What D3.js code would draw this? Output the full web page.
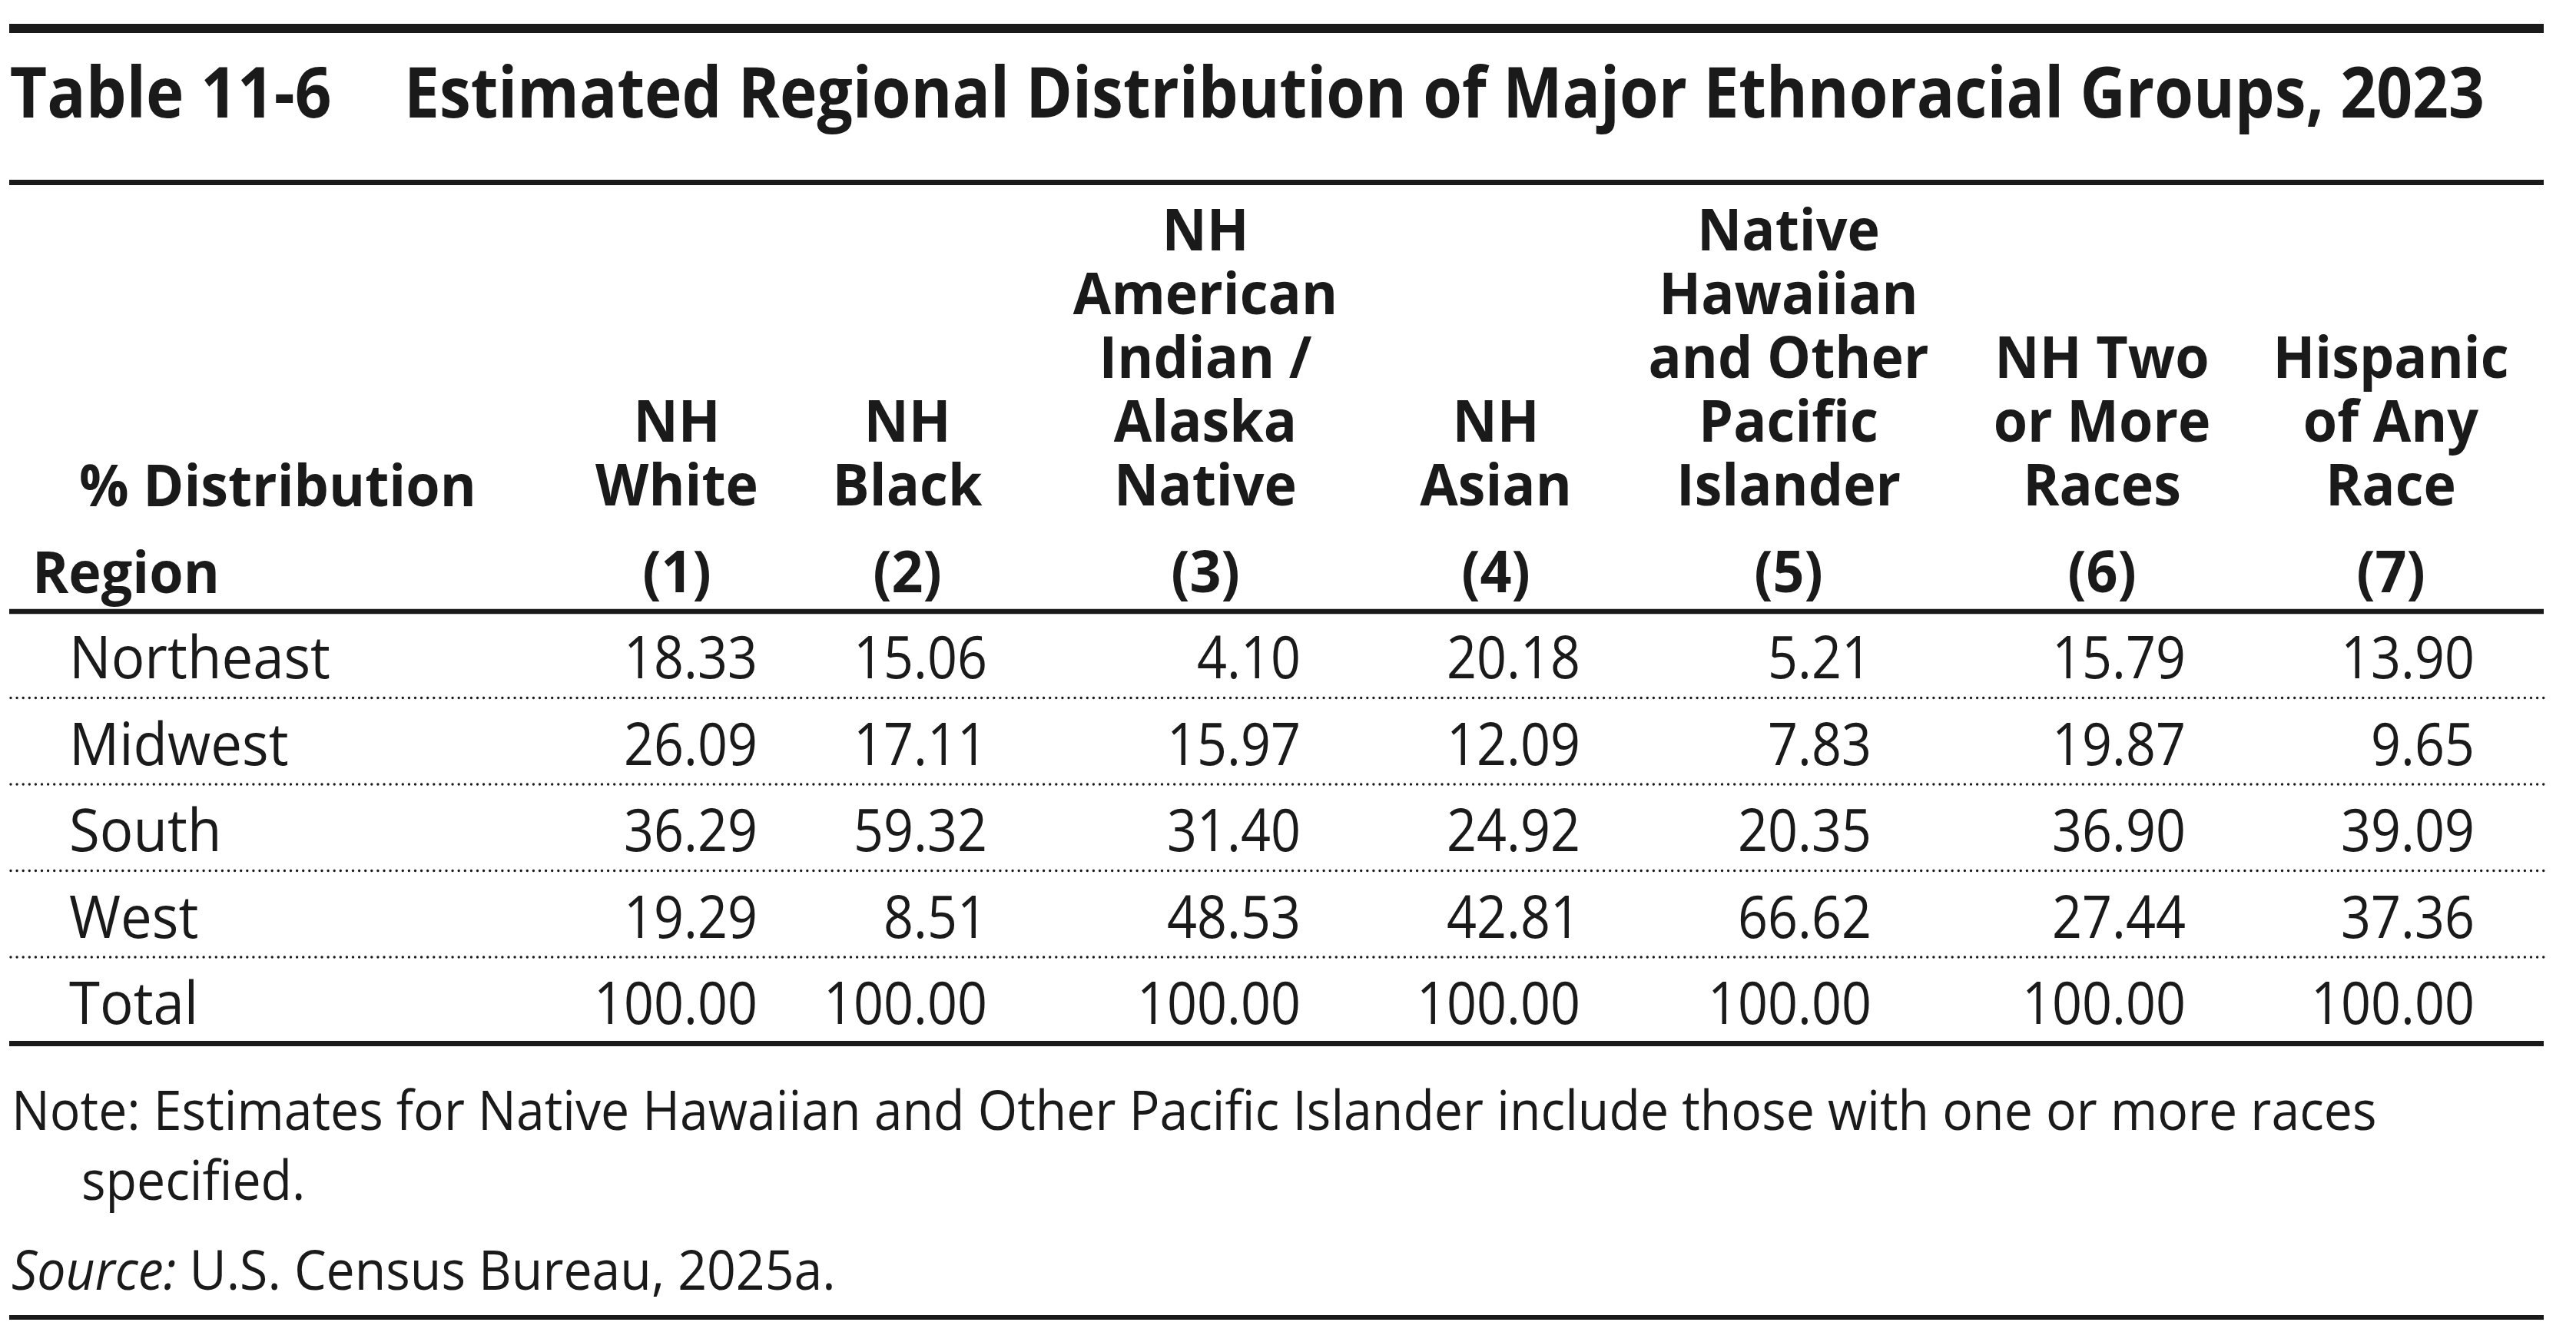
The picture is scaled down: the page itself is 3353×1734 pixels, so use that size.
<!DOCTYPE html>
<html>
<head>
<meta charset="utf-8">
<script src="https://cdn.jsdelivr.net/npm/d3@7"></script>
<style>
  body { margin: 0; background: #fff; }
  svg { display: block; }
  text { font-family: "Open Sans", "Noto Sans", sans-serif; fill: #1a1a1a; }
</style>
</head>
<body>
<div id="chart"></div>
<script>
// table data
var regions = ["Northeast", "Midwest", "South", "West", "Total"];
var headers = [
  ["NH", "White"],
  ["NH", "Black"],
  ["NH", "American", "Indian /", "Alaska", "Native"],
  ["NH", "Asian"],
  ["Native", "Hawaiian", "and Other", "Pacific", "Islander"],
  ["NH Two", "or More", "Races"],
  ["Hispanic", "of Any", "Race"]
];
var colNumbers = ["(1)", "(2)", "(3)", "(4)", "(5)", "(6)", "(7)"];

var nhWhite  = [18.33, 26.09, 36.29, 19.29, 100.00];
var nhBlack  = [15.06, 17.11, 59.32,  8.51, 100.00];
var nhAIAN   = [ 4.10, 15.97, 31.40, 48.53, 100.00];
var nhAsian  = [20.18, 12.09, 24.92, 42.81, 100.00];
var nhNHPI   = [ 5.21,  7.83, 20.35, 66.62, 100.00];
var nhTwo    = [15.79, 19.87, 36.90, 27.44, 100.00];
var hispanic = [13.90,  9.65, 39.09, 37.36, 100.00];
var series = [nhWhite, nhBlack, nhAIAN, nhAsian, nhNHPI, nhTwo, hispanic];

var title1 = "Table 11-6";
var title2 = "Estimated Regional Distribution of Major Ethnoracial Groups, 2023";
var note1 = "Note: Estimates for Native Hawaiian and Other Pacific Islander include those with one or more races";
var note2 = "specified.";

// layout
var width = 3353, height = 1734;
var left = 12, right = 3311;
var colCenter = [881, 1181, 1569, 1947, 2328, 2736, 3112];
var colRight  = [986, 1285, 1693, 2057, 2436, 2845, 3221];

var svg = d3.select("#chart").append("svg")
  .attr("width", width)
  .attr("height", height)
  .attr("viewBox", "0 0 " + width + " " + height);

var fmt = d3.format(".2f");

// measure natural width to squeeze the fallback font to the original widths
function naturalWidth(str, size, weight, style) {
  var t = svg.append("text")
    .attr("font-size", size)
    .attr("font-weight", weight || 400)
    .attr("font-style", style || "normal")
    .text(str);
  var w = t.node().getComputedTextLength();
  t.remove();
  return w;
}

function addText(x, y, str, o) {
  return svg.append("text")
    .attr("transform", "translate(" + x + "," + y + ") scale(" + (o.sx || 1) + ",1)")
    .attr("font-size", o.size)
    .attr("font-weight", o.weight || 400)
    .attr("font-style", o.style || "normal")
    .attr("text-anchor", o.anchor || "start")
    .text(str);
}

function rule(y, w) {
  svg.append("line")
    .attr("x1", left).attr("x2", right)
    .attr("y1", y).attr("y2", y)
    .attr("stroke", "#1a1a1a")
    .attr("stroke-width", w);
}

var titleSize = 92, headSize = 76, bodySize = 77, noteSize = 71;

var sxTitle1 = 419 / naturalWidth(title1, titleSize, 700);
var sxTitle2 = 2708 / naturalWidth(title2, titleSize, 700);
var sxHead = 212 / naturalWidth("White", headSize, 700);
var sxLabel = 340 / naturalWidth("Northeast", bodySize, 400);
var sxNum = 174 / naturalWidth("18.33", bodySize, 400);
var sxNote = 3079 / naturalWidth(note1, noteSize, 400);

// rules
rule(37, 12);
rule(237.5, 7);
rule(796, 6.5);
rule(1358.5, 7);
rule(1715, 6);

// title
addText(12.7, 153, title1, {size: titleSize, weight: 700, sx: sxTitle1});
addText(526, 153, title2, {size: titleSize, weight: 700, sx: sxTitle2});

// column headers, bottom aligned, one text block per column
var x = d3.scaleOrdinal().domain(d3.range(7)).range(colCenter);
var xr = d3.scaleOrdinal().domain(d3.range(7)).range(colRight);
var lastLine = 658, lineGap = 83;

headers.forEach(function(lines, i) {
  var top = lastLine - (lines.length - 1) * lineGap;
  var t = addText(x(i), top, "", {size: headSize, weight: 700, anchor: "middle", sx: sxHead});
  t.selectAll("tspan").data(lines).enter().append("tspan")
    .attr("x", 0)
    .attr("dy", function(d, j) { return j === 0 ? 0 : lineGap; })
    .text(function(d) { return d; });
  addText(x(i), 771, colNumbers[i], {size: headSize, weight: 700, anchor: "middle", sx: sxHead});
});

addText(103, 659, "% Distribution", {size: headSize, weight: 700, sx: sxHead});
addText(42, 772, "Region", {size: headSize, weight: 700, sx: sxHead});

// rows
var y = d3.scaleBand().domain(regions).range([796, 1358.5]);

regions.slice(1).forEach(function(r) {
  svg.append("line")
    .attr("x1", left + 2).attr("x2", right)
    .attr("y1", y(r)).attr("y2", y(r))
    .attr("stroke", "#1a1a1a")
    .attr("stroke-width", 3.4)
    .attr("stroke-linecap", "round")
    .attr("stroke-dasharray", "0 8.1");
});

regions.forEach(function(r, ri) {
  var base = y(r) + 87;
  addText(90, base, r, {size: bodySize, sx: sxLabel});
  series.forEach(function(vals, ci) {
    addText(xr(ci), base, fmt(vals[ri]), {size: bodySize, anchor: "end", sx: sxNum});
  });
});

// notes
addText(15, 1471, note1, {size: noteSize, sx: sxNote});
addText(106, 1562, note2, {size: noteSize, sx: sxNote});

var src = svg.append("text")
  .attr("transform", "translate(15,1679) scale(" + sxNote + ",1)")
  .attr("font-size", noteSize);
src.append("tspan").attr("font-style", "italic").text("Source:");
src.append("tspan").text(" U.S. Census Bureau, 2025a.");
</script>
</body>
</html>
